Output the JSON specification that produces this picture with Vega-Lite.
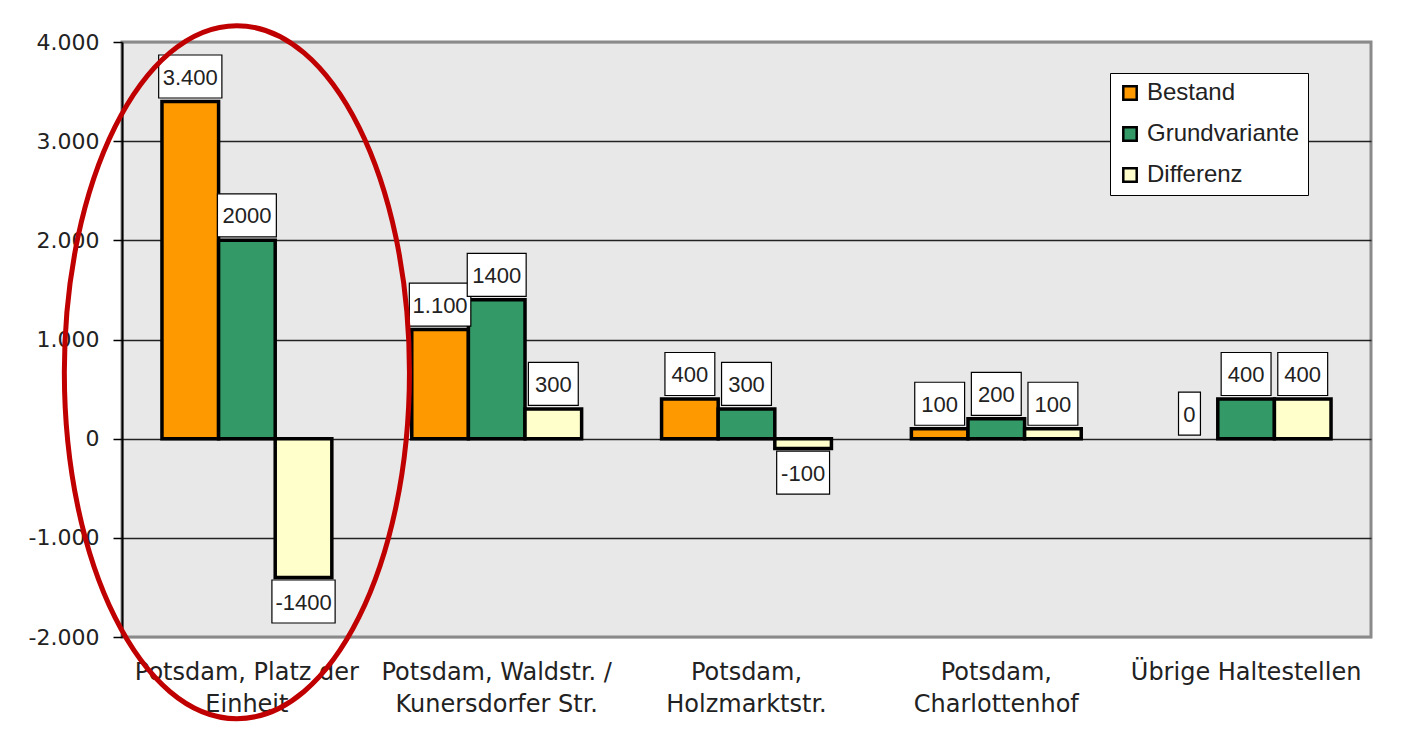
{
  "$schema": "https://vega.github.io/schema/vega-lite/v6.json",
  "width": 1249,
  "height": 595,
  "autosize": "none",
  "padding": {"left": 122, "top": 42, "right": 41, "bottom": 112},
  "background": "white",
  "config": {
    "locale": {
      "number": {"decimal": ",", "thousands": ".", "grouping": [3], "currency": ["", " €"], "minus": "-"}
    },
    "view": {"fill": "#e8e8e8", "stroke": "#8a8a8a", "strokeWidth": 3},
    "font": "DejaVu Sans"
  },
  "datasets": {
    "bars": [
      {"category": "Potsdam, Platz der Einheit", "series": "Bestand", "value": 3400, "label": "3.400"},
      {"category": "Potsdam, Platz der Einheit", "series": "Grundvariante", "value": 2000, "label": "2000"},
      {"category": "Potsdam, Platz der Einheit", "series": "Differenz", "value": -1400, "label": "-1400"},
      {"category": "Potsdam, Waldstr. / Kunersdorfer Str.", "series": "Bestand", "value": 1100, "label": "1.100"},
      {"category": "Potsdam, Waldstr. / Kunersdorfer Str.", "series": "Grundvariante", "value": 1400, "label": "1400"},
      {"category": "Potsdam, Waldstr. / Kunersdorfer Str.", "series": "Differenz", "value": 300, "label": "300"},
      {"category": "Potsdam, Holzmarktstr.", "series": "Bestand", "value": 400, "label": "400"},
      {"category": "Potsdam, Holzmarktstr.", "series": "Grundvariante", "value": 300, "label": "300"},
      {"category": "Potsdam, Holzmarktstr.", "series": "Differenz", "value": -100, "label": "-100"},
      {"category": "Potsdam, Charlottenhof", "series": "Bestand", "value": 100, "label": "100"},
      {"category": "Potsdam, Charlottenhof", "series": "Grundvariante", "value": 200, "label": "200"},
      {"category": "Potsdam, Charlottenhof", "series": "Differenz", "value": 100, "label": "100"},
      {"category": "Übrige Haltestellen", "series": "Bestand", "value": 0, "label": "0"},
      {"category": "Übrige Haltestellen", "series": "Grundvariante", "value": 400, "label": "400"},
      {"category": "Übrige Haltestellen", "series": "Differenz", "value": 400, "label": "400"}
    ],
    "ring": [
      {"category": "Potsdam, Platz der Einheit", "value": 670}
    ]
  },
  "encoding": {
    "x": {
      "field": "category",
      "type": "nominal",
      "sort": ["Potsdam, Platz der Einheit", "Potsdam, Waldstr. / Kunersdorfer Str.", "Potsdam, Holzmarktstr.", "Potsdam, Charlottenhof", "Übrige Haltestellen"],
      "scale": {"paddingInner": 0.32, "paddingOuter": 0.16},
      "axis": {
        "title": null,
        "domain": false,
        "ticks": false,
        "labelAngle": 0,
        "labelLimit": 0,
        "labelFont": "DejaVu Sans",
        "labelFontSize": 24,
        "labelColor": "#222222",
        "labelPadding": 23,
        "labelLineHeight": 32,
        "labelBaseline": "top",
        "labelExpr": "datum.value == 'Potsdam, Platz der Einheit' ? ['Potsdam, Platz der', 'Einheit'] : datum.value == 'Potsdam, Waldstr. / Kunersdorfer Str.' ? ['Potsdam, Waldstr. /', 'Kunersdorfer Str.'] : indexof(datum.value, 'Potsdam, ') == 0 ? ['Potsdam,', substring(datum.value, 9)] : datum.value"
      }
    },
    "y": {
      "field": "value",
      "type": "quantitative",
      "scale": {"domain": [-2000, 4000], "nice": false, "zero": false},
      "axis": {
        "title": null,
        "values": [-2000, -1000, 0, 1000, 2000, 3000, 4000],
        "format": ",d",
        "grid": true,
        "gridColor": {"condition": {"test": "datum.value == 4000 || datum.value == -2000", "value": "#8a8a8a"}, "value": "#222222"},
        "gridWidth": 1.3,
        "domainColor": "#000000",
        "domainWidth": 2,
        "tickColor": "#000000",
        "tickSize": 9,
        "tickWidth": 1.5,
        "labelFont": "DejaVu Sans",
        "labelFontSize": 22,
        "labelColor": "#222222",
        "labelPadding": 14
      }
    }
  },
  "layer": [
    {
      "data": {"name": "bars"},
      "transform": [{"filter": "datum.value != 0"}],
      "mark": {"type": "bar", "stroke": "#000000", "strokeWidth": 3.5},
      "encoding": {
        "xOffset": {"field": "series", "type": "nominal", "sort": ["Bestand", "Grundvariante", "Differenz"], "scale": {"paddingInner": 0, "paddingOuter": 0}},
        "color": {
          "field": "series",
          "type": "nominal",
          "sort": ["Bestand", "Grundvariante", "Differenz"],
          "scale": {"domain": ["Bestand", "Grundvariante", "Differenz"], "range": ["#ff9900", "#339966", "#ffffcc"]},
          "legend": {
            "title": null,
            "orient": "none",
            "legendX": 988,
            "legendY": 31,
            "fillColor": "#ffffff",
            "strokeColor": "#000000",
            "padding": 8,
            "rowPadding": 17,
            "symbolType": "square",
            "symbolSize": 180,
            "symbolStrokeColor": "#000000",
            "symbolStrokeWidth": 2.5,
            "symbolOpacity": 1,
            "labelFont": "Liberation Sans",
            "labelFontSize": 24,
            "labelColor": "#222222",
            "labelOffset": 5
          }
        }
      }
    },
    {
      "data": {"name": "bars"},
      "transform": [{"filter": "datum.value >= 0"}],
      "mark": {"type": "point", "filled": true, "fill": "#ffffff", "stroke": "#000000", "strokeWidth": 1.2, "opacity": 1, "size": 1849, "yOffset": -25},
      "encoding": {
        "xOffset": {"field": "series", "type": "nominal", "sort": ["Bestand", "Grundvariante", "Differenz"], "scale": {"paddingInner": 0, "paddingOuter": 0}},
        "shape": {
          "field": "label",
          "type": "nominal",
          "legend": null,
          "scale": {
            "domain": ["3.400", "2000", "-1400", "1.100", "1400", "300", "400", "-100", "100", "200", "0"],
            "range": [
              "M -1.47 -1 L 1.47 -1 L 1.47 1 L -1.47 1 Z",
              "M -1.37 -1 L 1.37 -1 L 1.37 1 L -1.37 1 Z",
              "M -1.47 -1 L 1.47 -1 L 1.47 1 L -1.47 1 Z",
              "M -1.43 -1 L 1.43 -1 L 1.43 1 L -1.43 1 Z",
              "M -1.37 -1 L 1.37 -1 L 1.37 1 L -1.37 1 Z",
              "M -1.16 -1 L 1.16 -1 L 1.16 1 L -1.16 1 Z",
              "M -1.16 -1 L 1.16 -1 L 1.16 1 L -1.16 1 Z",
              "M -1.23 -1 L 1.23 -1 L 1.23 1 L -1.23 1 Z",
              "M -1.16 -1 L 1.16 -1 L 1.16 1 L -1.16 1 Z",
              "M -1.16 -1 L 1.16 -1 L 1.16 1 L -1.16 1 Z",
              "M -0.51 -1 L 0.51 -1 L 0.51 1 L -0.51 1 Z"
            ]
          }
        }
      }
    },
    {
      "data": {"name": "bars"},
      "transform": [{"filter": "datum.value < 0"}],
      "mark": {"type": "point", "filled": true, "fill": "#ffffff", "stroke": "#000000", "strokeWidth": 1.2, "opacity": 1, "size": 1849, "yOffset": 24},
      "encoding": {
        "xOffset": {"field": "series", "type": "nominal", "sort": ["Bestand", "Grundvariante", "Differenz"], "scale": {"paddingInner": 0, "paddingOuter": 0}},
        "shape": {
          "field": "label",
          "type": "nominal",
          "legend": null,
          "scale": {
            "domain": ["3.400", "2000", "-1400", "1.100", "1400", "300", "400", "-100", "100", "200", "0"],
            "range": [
              "M -1.47 -1 L 1.47 -1 L 1.47 1 L -1.47 1 Z",
              "M -1.37 -1 L 1.37 -1 L 1.37 1 L -1.37 1 Z",
              "M -1.47 -1 L 1.47 -1 L 1.47 1 L -1.47 1 Z",
              "M -1.43 -1 L 1.43 -1 L 1.43 1 L -1.43 1 Z",
              "M -1.37 -1 L 1.37 -1 L 1.37 1 L -1.37 1 Z",
              "M -1.16 -1 L 1.16 -1 L 1.16 1 L -1.16 1 Z",
              "M -1.16 -1 L 1.16 -1 L 1.16 1 L -1.16 1 Z",
              "M -1.23 -1 L 1.23 -1 L 1.23 1 L -1.23 1 Z",
              "M -1.16 -1 L 1.16 -1 L 1.16 1 L -1.16 1 Z",
              "M -1.16 -1 L 1.16 -1 L 1.16 1 L -1.16 1 Z",
              "M -0.51 -1 L 0.51 -1 L 0.51 1 L -0.51 1 Z"
            ]
          }
        }
      }
    },
    {
      "data": {"name": "bars"},
      "transform": [{"filter": "datum.value >= 0"}],
      "mark": {"type": "text", "font": "Liberation Sans", "fontSize": 22, "color": "#222222", "baseline": "middle", "align": "center", "dy": -24},
      "encoding": {
        "xOffset": {"field": "series", "type": "nominal", "sort": ["Bestand", "Grundvariante", "Differenz"], "scale": {"paddingInner": 0, "paddingOuter": 0}},
        "text": {"field": "label", "type": "nominal"}
      }
    },
    {
      "data": {"name": "bars"},
      "transform": [{"filter": "datum.value < 0"}],
      "mark": {"type": "text", "font": "Liberation Sans", "fontSize": 22, "color": "#222222", "baseline": "middle", "align": "center", "dy": 25},
      "encoding": {
        "xOffset": {"field": "series", "type": "nominal", "sort": ["Bestand", "Grundvariante", "Differenz"], "scale": {"paddingInner": 0, "paddingOuter": 0}},
        "text": {"field": "label", "type": "nominal"}
      }
    },
    {
      "data": {"name": "ring"},
      "mark": {"type": "point", "filled": false, "stroke": "#c00000", "strokeWidth": 5, "opacity": 1, "size": 480249, "xOffset": -10, "shape": "M -0.498 0 A 0.498 1 0 1 0 0.498 0 A 0.498 1 0 1 0 -0.498 0 Z"},
      "encoding": {}
    }
  ]
}
